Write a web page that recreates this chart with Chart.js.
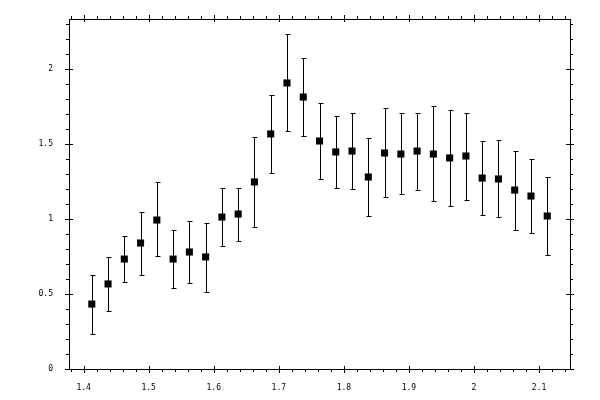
<!DOCTYPE html>
<html>
<head>
<meta charset="utf-8">
<script src="https://cdn.jsdelivr.net/npm/chart.js@4/dist/chart.umd.min.js"></script>
<style>
  body { margin: 0; background: #fff; }
  canvas { display: block; }
</style>
</head>
<body>
<canvas id="chart" width="600" height="400"></canvas>
<script>
// measured points (x bin centres) with their error bar ends
const xValues = [1.4125, 1.4375, 1.4625, 1.4875, 1.5125, 1.5375, 1.5625, 1.5875, 1.6125, 1.6375,
                 1.6625, 1.6875, 1.7125, 1.7375, 1.7625, 1.7875, 1.8125, 1.8375, 1.8625, 1.8875,
                 1.9125, 1.9375, 1.9625, 1.9875, 2.0125, 2.0375, 2.0625, 2.0875, 2.1125];
const yValues = [0.433, 0.567, 0.733, 0.84, 0.993, 0.733, 0.78, 0.747, 1.013, 1.033,
                 1.247, 1.567, 1.907, 1.813, 1.52, 1.447, 1.453, 1.28, 1.44, 1.433,
                 1.453, 1.433, 1.407, 1.42, 1.273, 1.267, 1.193, 1.153, 1.02];
const yUpper  = [0.624, 0.747, 0.887, 1.047, 1.247, 0.927, 0.987, 0.973, 1.207, 1.207,
                 1.549, 1.827, 2.233, 2.073, 1.773, 1.687, 1.707, 1.54, 1.74, 1.707,
                 1.707, 1.753, 1.727, 1.707, 1.52, 1.527, 1.453, 1.4, 1.28];
const yLower  = [0.233, 0.389, 0.582, 0.627, 0.753, 0.54, 0.573, 0.515, 0.82, 0.853,
                 0.947, 1.307, 1.587, 1.553, 1.267, 1.207, 1.2, 1.022, 1.147, 1.167,
                 1.193, 1.122, 1.089, 1.129, 1.027, 1.013, 0.927, 0.907, 0.76];

const xTicks = [1.4, 1.5, 1.6, 1.7, 1.8, 1.9, 2, 2.1];
const yTicks = [0, 0.5, 1, 1.5, 2];
const xRange = [1.3775, 2.1475];
const yRange = [0, 2.3333];
const xMinorStep = 0.02;
const yMinorStep = 0.1;

const points = xValues.map((x, i) => ({ x: x, y: yValues[i] }));

const labelFont = { family: 'DejaVu Sans Mono', size: 8 };

// vertical error bars with small caps, drawn under the markers
const errorBars = {
  id: 'errorBars',
  beforeDatasetsDraw(chart) {
    const ctx = chart.ctx;
    const xs = chart.scales.x, ys = chart.scales.y;
    ctx.save();
    ctx.strokeStyle = '#000';
    ctx.lineWidth = 1;
    ctx.beginPath();
    xValues.forEach((x, i) => {
      const px = Math.round(xs.getPixelForValue(x)) + 0.5;
      const top = Math.round(ys.getPixelForValue(yUpper[i])) + 0.5;
      const bot = Math.round(ys.getPixelForValue(yLower[i])) + 0.5;
      ctx.moveTo(px, top); ctx.lineTo(px, bot);
      ctx.moveTo(px - 2, top); ctx.lineTo(px + 3, top);
      ctx.moveTo(px - 2, bot); ctx.lineTo(px + 3, bot);
    });
    ctx.stroke();
    ctx.restore();
  }
};

// tick marks on all four sides: majors cross the frame, minors point out
const frameTicks = {
  id: 'frameTicks',
  afterDraw(chart) {
    const ctx = chart.ctx;
    const a = chart.chartArea;
    const xs = chart.scales.x, ys = chart.scales.y;
    ctx.save();
    ctx.strokeStyle = '#000';
    ctx.lineWidth = 1;
    ctx.beginPath();
    const isMajor = (v, list) => list.some(t => Math.abs(t - v) < 1e-6);
    for (let k = Math.ceil(xRange[0] / xMinorStep); k * xMinorStep <= xRange[1] + 1e-9; k++) {
      const v = +(k * xMinorStep).toFixed(4);
      const major = isMajor(v, xTicks);
      const out = major ? 4 : 3, inn = major ? 3 : 0;
      const px = Math.round(xs.getPixelForValue(v)) + 0.5;
      ctx.moveTo(px, a.bottom - inn); ctx.lineTo(px, a.bottom + out);
      ctx.moveTo(px, a.top + inn); ctx.lineTo(px, a.top - out);
    }
    for (let k = Math.ceil(yRange[0] / yMinorStep); k * yMinorStep <= yRange[1] + 1e-9; k++) {
      const v = +(k * yMinorStep).toFixed(4);
      const major = isMajor(v, yTicks);
      const out = major ? 4 : 3, inn = major ? 4 : 0;
      const py = Math.round(ys.getPixelForValue(v)) + 0.5;
      ctx.moveTo(a.left + inn, py); ctx.lineTo(a.left - out, py);
      ctx.moveTo(a.right - inn, py); ctx.lineTo(a.right + out, py);
    }
    ctx.stroke();
    ctx.restore();
  }
};

const frameAxis = (pos, range, size) => ({
  type: 'linear',
  position: pos,
  min: range[0],
  max: range[1],
  grid: { display: false },
  border: { display: true, color: '#000', width: 1 },
  ticks: { display: false },
  afterFit(s) { if (s.isHorizontal()) s.height = size; else s.width = size; }
});

new Chart(document.getElementById('chart').getContext('2d'), {
  type: 'scatter',
  data: {
    datasets: [{
      data: points,
      pointStyle: 'rect',
      pointRadius: 5,
      pointHoverRadius: 5,
      backgroundColor: '#000',
      borderColor: '#000',
      borderWidth: 0
    }]
  },
  options: {
    responsive: false,
    animation: false,
    layout: { padding: 0 },
    plugins: {
      legend: { display: false },
      tooltip: { enabled: false }
    },
    scales: {
      x: {
        type: 'linear',
        position: 'bottom',
        min: xRange[0],
        max: xRange[1],
        grid: { display: false },
        border: { display: true, color: '#000', width: 1 },
        ticks: {
          color: '#000',
          font: labelFont,
          padding: 6,
          maxRotation: 0,
          autoSkip: false,
          callback: v => String(v)
        },
        afterBuildTicks(s) { s.ticks = xTicks.map(v => ({ value: v })); },
        afterFit(s) { s.height = 31; }
      },
      y: {
        type: 'linear',
        position: 'left',
        min: yRange[0],
        max: yRange[1],
        grid: { display: false },
        border: { display: true, color: '#000', width: 1 },
        ticks: {
          color: '#000',
          font: labelFont,
          padding: 8,
          autoSkip: false,
          callback: v => String(v)
        },
        afterBuildTicks(s) { s.ticks = yTicks.map(v => ({ value: v })); },
        afterFit(s) { s.width = 69; }
      },
      x2: frameAxis('top', xRange, 19),
      y2: frameAxis('right', yRange, 30)
    }
  },
  plugins: [errorBars, frameTicks]
});
</script>
</body>
</html>
